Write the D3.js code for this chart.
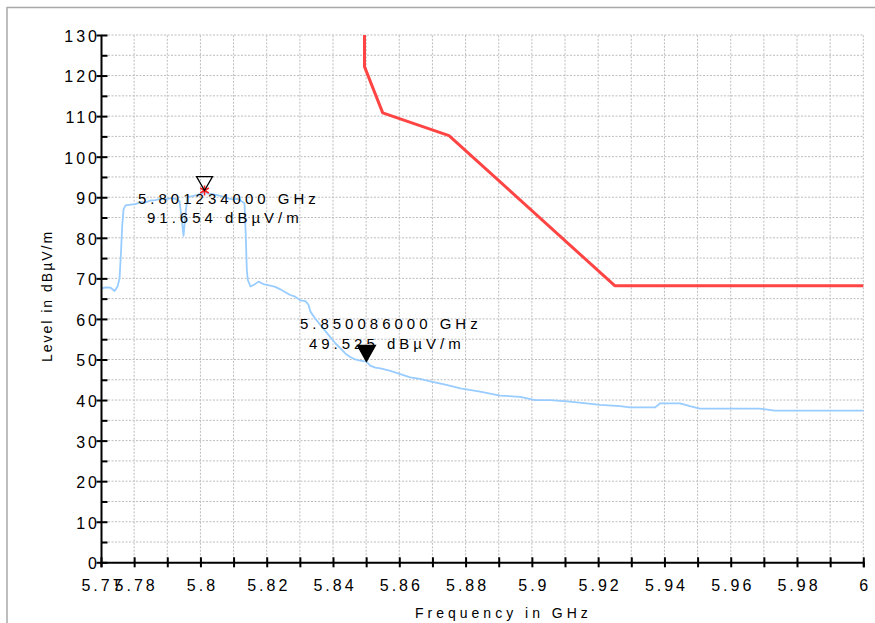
<!DOCTYPE html>
<html><head><meta charset="utf-8">
<script src="https://cdn.jsdelivr.net/npm/d3@7"></script>
<style>
body{margin:0;background:#fff}
svg{display:block}
text{font-family:"Liberation Sans",Arial,Helvetica,sans-serif;fill:#000}
</style>
</head><body>
<svg id="chart" width="875" height="623"></svg>
<script>
// ---- data ----
const traceFreq = [5.7700,5.7714,5.7729,5.7741,5.7750,5.7756,5.7760,5.7764,5.7768,5.7774,5.7789,5.7804,5.7819,5.7834,5.7849,5.7864,5.7879,5.7894,5.7910,5.7925,5.7937,5.7943,5.7949,5.7955,5.7961,5.7976,5.7991,5.8006,5.8012,5.8021,5.8036,5.8051,5.8066,5.8081,5.8096,5.8112,5.8124,5.8133,5.8137,5.8140,5.8143,5.8151,5.8163,5.8175,5.8190,5.8211,5.8226,5.8241,5.8256,5.8271,5.8286,5.8301,5.8317,5.8326,5.8332,5.8347,5.8362,5.8377,5.8392,5.8407,5.8422,5.8437,5.8452,5.8467,5.8482,5.8501,5.8512,5.8528,5.8543,5.8573,5.8603,5.8633,5.8663,5.8693,5.8739,5.8784,5.8844,5.8904,5.8965,5.9010,5.9055,5.9115,5.9206,5.9266,5.9296,5.9372,5.9387,5.9447,5.9477,5.9507,5.9688,5.9733,6.0000];
const traceLevel = [67.5,67.8,67.7,66.9,68.0,70.0,76.0,83.0,87.0,88.0,88.2,88.3,88.8,88.7,89.2,89.3,89.6,89.5,89.8,89.6,89.0,85.0,80.5,86.0,90.0,90.3,90.6,91.0,91.65,90.9,90.8,90.5,90.2,89.8,89.5,89.6,89.0,88.5,80.0,72.0,69.6,68.0,68.5,69.2,68.6,68.2,67.9,67.3,66.6,65.9,65.5,64.6,64.4,63.5,61.8,60.0,58.5,57.0,55.5,54.0,52.8,51.5,50.6,50.0,49.7,49.5,48.5,48.0,47.8,47.2,46.4,45.6,45.2,44.6,43.8,42.9,42.1,41.1,40.8,40.0,40.0,39.6,38.8,38.5,38.2,38.2,39.2,39.2,38.5,37.9,37.9,37.4,37.4];

const limitFreq  = [5.8495, 5.8495, 5.855, 5.875, 5.925, 6.000];
const limitLevel = [130.0, 122.2, 110.8, 105.2, 68.2, 68.2];

const markerFreq  = [5.801234, 5.850086];
const markerLevel = [91.654, 49.525];
const markerFreqLabels  = ["5.801234000 GHz", "5.850086000 GHz"];
const markerLevelLabels = ["91.654 dBµV/m", "49.525 dBµV/m"];
const markerFilled = [false, true];

const xTickLabels = ["5.77","5.78","5.8","5.82","5.84","5.86","5.88","5.9","5.92","5.94","5.96","5.98","6"];
const yTickLabels = ["0","10","20","30","40","50","60","70","80","90","100","110","120","130"];
const xTitle = "Frequency in GHz";
const yTitle = "Level in dBµV/m";

// ---- layout ----
const svg = d3.select("#chart");
const x = d3.scaleLinear().domain([5.77, 6.0]).range([101, 863.3]);
const y = d3.scaleLinear().domain([0, 130]).range([562.3, 35]);

// frame lines (outer panel border)
svg.append("line").attr("x1",7).attr("x2",875).attr("y1",7.5).attr("y2",7.5).attr("stroke","#a8a8a8").attr("stroke-width",1.5);
svg.append("line").attr("x1",7).attr("x2",7).attr("y1",7).attr("y2",623).attr("stroke","#a8a8a8").attr("stroke-width",1.5);

const xTickVals = d3.range(0, 24).map(i => +(5.77 + i * 0.01).toFixed(2));
const yTickVals = d3.range(0, 131, 5);
const xLabelVals = xTickLabels.map(Number);

// grid
const grid = svg.append("g").attr("stroke","#bdbdbd").attr("stroke-width",1).attr("stroke-dasharray","2,1.5");
grid.selectAll("line.v").data(xTickVals.slice(1)).join("line")
  .attr("x1", d => x(d)).attr("x2", d => x(d)).attr("y1", y(0)).attr("y2", y(130));
grid.selectAll("line.h").data(yTickVals.slice(1)).join("line").attr("class","h")
  .attr("x1", x(5.77)).attr("x2", x(6.0)).attr("y1", d => y(d)).attr("y2", d => y(d));

// limit line
const line = d3.line().x(d => x(d[0])).y(d => y(d[1]));
svg.append("path").datum(d3.zip(limitFreq, limitLevel))
  .attr("d", line).attr("fill","none").attr("stroke","#ff4444").attr("stroke-width",3).attr("stroke-linejoin","round");

// measurement trace
svg.append("path").datum(d3.zip(traceFreq, traceLevel))
  .attr("d", line).attr("fill","none").attr("stroke","#99ccff").attr("stroke-width",1.8).attr("stroke-linejoin","round");

// x axis
const xAxis = d3.axisBottom(x).tickValues(xTickVals).tickSize(5).tickPadding(0)
  .tickFormat(d => { const i = xLabelVals.findIndex(v => Math.abs(v - d) < 1e-6); return i >= 0 ? xTickLabels[i] : ""; });
const gx = svg.append("g").attr("transform", `translate(0,${y(0)})`).call(xAxis);
gx.select(".domain").attr("stroke","#000").attr("stroke-width",2);
gx.selectAll(".tick line").attr("y1",-5).attr("y2",5).attr("stroke","#000").attr("stroke-width",2);
gx.selectAll(".tick text").attr("y",29).attr("dy",0).attr("font-size","16px").attr("letter-spacing","3px").attr("dx","1.5px");

// y axis
const yAxis = d3.axisLeft(y).tickValues(yTickVals).tickSize(0).tickPadding(0)
  .tickFormat(d => d % 10 === 0 ? yTickLabels[d / 10] : "");
const gy = svg.append("g").attr("transform", `translate(${x(5.77)},0)`).call(yAxis);
gy.select(".domain").attr("stroke","#000").attr("stroke-width",2);
gy.selectAll(".tick line").attr("x1", d => d % 10 === 0 ? -4.5 : 0).attr("x2", 6.5).attr("stroke","#000").attr("stroke-width",2);
gy.selectAll(".tick text").attr("x",-1).attr("dy","0.4em").attr("font-size","16px").attr("letter-spacing","3px");

// axis titles
svg.append("text").attr("x", 415).attr("y", 618).attr("font-size","14px").attr("letter-spacing","4px").text(xTitle);
svg.append("text").attr("transform","translate(52,296) rotate(-90)").attr("text-anchor","middle")
  .attr("font-size","14px").attr("letter-spacing","2px").text(yTitle);

// markers
const markers = d3.range(markerFreq.length).map(i => ({
  f: markerFreq[i], v: markerLevel[i], l1: markerFreqLabels[i], l2: markerLevelLabels[i], filled: markerFilled[i]
}));
const mg = svg.selectAll("g.marker").data(markers).join("g").attr("class","marker");
mg.filter(d => !d.filled).append("path")
  .attr("d", d3.symbol(d3.symbolAsterisk, 70))
  .attr("transform", d => `translate(${x(d.f)},${y(d.v)})`)
  .attr("stroke","#ff2020").attr("stroke-width",1.6).attr("fill","none");
mg.append("path")
  .attr("d", d => { const px = x(d.f), py = y(d.v); const w = d.filled ? 9 : 8, h = d.filled ? 16 : 14;
    return `M${px - w},${py - h}L${px + w},${py - h}L${px},${py}Z`; })
  .attr("fill", d => d.filled ? "#000" : "none").attr("stroke","#000").attr("stroke-width",1.3);
mg.append("text").attr("x", d => x(d.f) - 66.5).attr("y", d => y(d.v) + (d.filled ? -32.4 : 13.5))
  .attr("font-size","15px").attr("letter-spacing","4px").text(d => d.l1);
mg.append("text").attr("x", d => x(d.f) - 57.5).attr("y", d => y(d.v) + (d.filled ? -12.1 : 32.2))
  .attr("font-size","15px").attr("letter-spacing","4px").text(d => d.l2);
</script>
</body></html>
